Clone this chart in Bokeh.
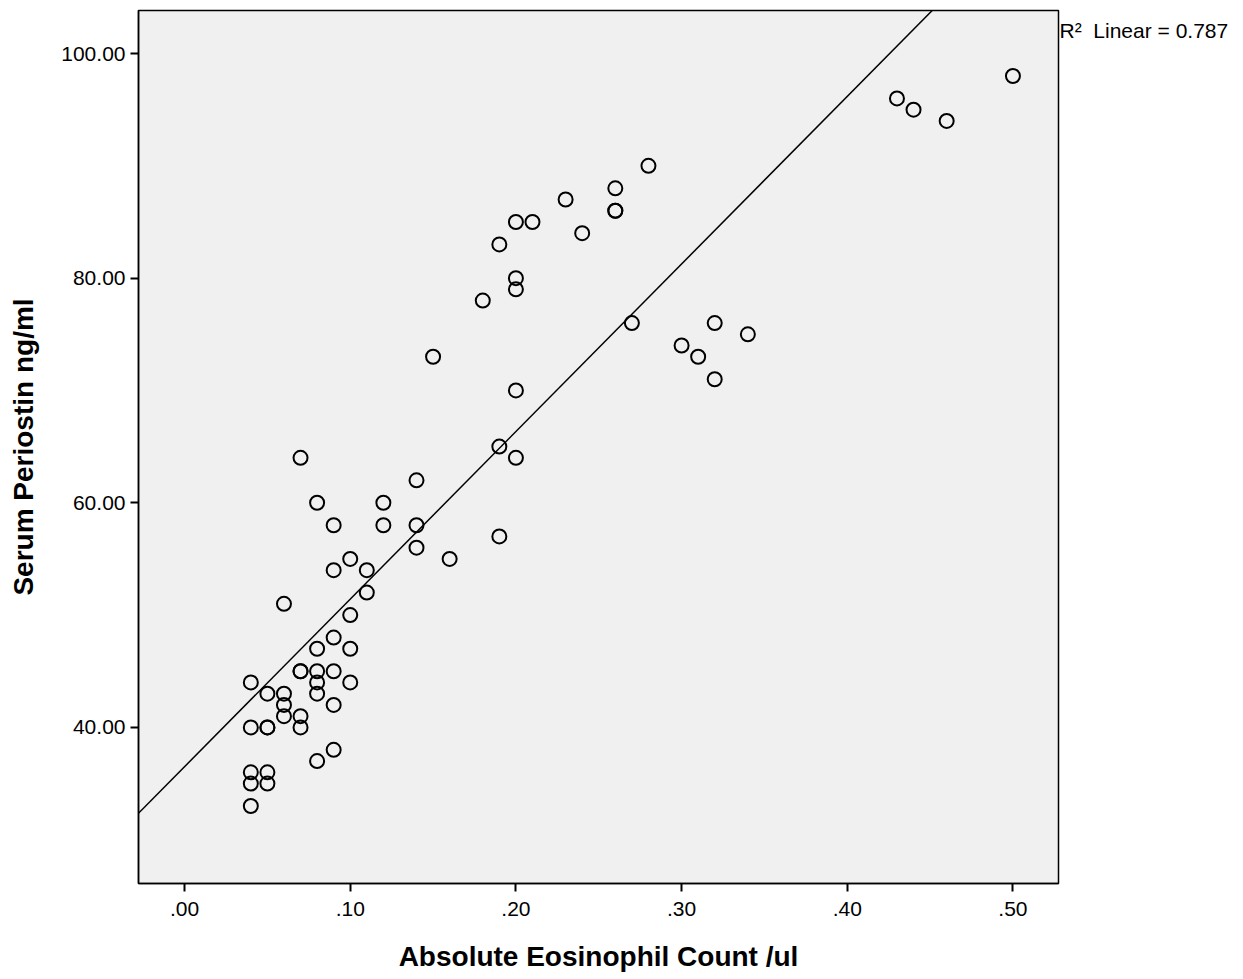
from bokeh.plotting import figure
from bokeh.layouts import row
from bokeh.models import Slope, Label, FixedTicker, Range1d
from bokeh.embed import file_html
from bokeh.resources import INLINE

eosinophil = [0.04, 0.04, 0.04, 0.04, 0.04,
              0.05, 0.05, 0.05, 0.05, 0.05,
              0.06, 0.06, 0.06, 0.06,
              0.07, 0.07, 0.07, 0.07, 0.07,
              0.08, 0.08, 0.08, 0.08, 0.08, 0.08,
              0.09, 0.09, 0.09, 0.09, 0.09, 0.09,
              0.10, 0.10, 0.10, 0.10,
              0.11, 0.11,
              0.12, 0.12,
              0.14, 0.14, 0.14,
              0.15, 0.16, 0.18,
              0.19, 0.19, 0.19,
              0.20, 0.20, 0.20, 0.20, 0.20,
              0.21, 0.23, 0.24, 0.26, 0.26, 0.26, 0.27, 0.28,
              0.30, 0.31, 0.32, 0.32, 0.34,
              0.43, 0.44, 0.46, 0.50]
periostin = [44, 40, 36, 35, 33,
             43, 40, 40, 36, 35,
             51, 43, 42, 41,
             64, 45, 45, 41, 40,
             60, 47, 45, 44, 43, 37,
             58, 54, 48, 45, 42, 38,
             55, 50, 47, 44,
             54, 52,
             60, 58,
             62, 58, 56,
             73, 55, 78,
             83, 65, 57,
             85, 80, 79, 70, 64,
             85, 87, 84, 88, 86, 86, 76, 90,
             74, 73, 76, 71, 75,
             96, 95, 94, 98]

fit_intercept = 36.5
fit_slope = 149.2
r2_text = "R\u00b2\u00a0 Linear = 0.787"

x_ticks = [0.0, 0.1, 0.2, 0.3, 0.4, 0.5]
x_tick_labels = {0.0: ".00", 0.1: ".10", 0.2: ".20", 0.3: ".30", 0.4: ".40", 0.5: ".50"}
y_ticks = [40, 60, 80, 100]
y_tick_labels = {40: "40.00", 60: "60.00", 80: "80.00", 100: "100.00"}

FONT = "Liberation Sans"

p = figure(width=1060, height=979, output_backend="svg", toolbar_location=None,
           x_range=Range1d(-0.0278, 0.5275), y_range=Range1d(26.1, 103.83),
           min_border_left=138, min_border_right=2, min_border_top=10, min_border_bottom=96)
p.background_fill_color = "#f0f0f0"
p.border_fill_color = "white"
p.outline_line_color = "black"
p.outline_line_width = 1.5
p.grid.visible = False

p.scatter(eosinophil, periostin, marker="circle", size=14, fill_color=None,
          line_color="black", line_width=2)

p.add_layout(Slope(gradient=fit_slope, y_intercept=fit_intercept,
                   line_color="black", line_width=1.5))

p.xaxis.ticker = FixedTicker(ticks=x_ticks)
p.xaxis.major_label_overrides = x_tick_labels
p.yaxis.ticker = FixedTicker(ticks=y_ticks)
p.yaxis.major_label_overrides = y_tick_labels

for ax in (p.xaxis[0], p.yaxis[0]):
    ax.axis_line_color = "black"
    ax.axis_line_width = 1.5
    ax.major_tick_line_color = "black"
    ax.major_tick_line_width = 2
    ax.major_tick_out = 8
    ax.major_tick_in = 0
    ax.minor_tick_line_color = None
    ax.major_label_text_font = FONT
    ax.major_label_text_font_size = "21px"
    ax.major_label_text_color = "black"
    ax.axis_label_text_font = FONT
    ax.axis_label_text_font_size = "28px"
    ax.axis_label_text_font_style = "bold"
    ax.axis_label_text_color = "black"

p.xaxis.axis_label = "Absolute Eosinophil Count /ul"
p.yaxis.axis_label = "Serum Periostin ng/ml"
p.xaxis.major_label_standoff = 10
p.yaxis.major_label_standoff = 5
p.xaxis.axis_label_standoff = 22
p.yaxis.axis_label_standoff = 19

# side panel holding the R-squared note (outside the plot frame)
side = figure(width=183, height=979, output_backend="svg", toolbar_location=None,
              x_range=Range1d(0, 183), y_range=Range1d(979, 0),
              min_border=0, x_axis_type=None, y_axis_type=None)
side.outline_line_color = None
side.background_fill_color = "white"
side.border_fill_color = "white"
side.grid.visible = False
side.add_layout(Label(x=-1, y=22, text=r2_text, text_font=FONT, text_font_size="21px",
                      text_color="black", text_baseline="middle", text_align="left"))

layout = row(p, side, spacing=0)
open("out.html", "w").write(file_html(layout, INLINE))
